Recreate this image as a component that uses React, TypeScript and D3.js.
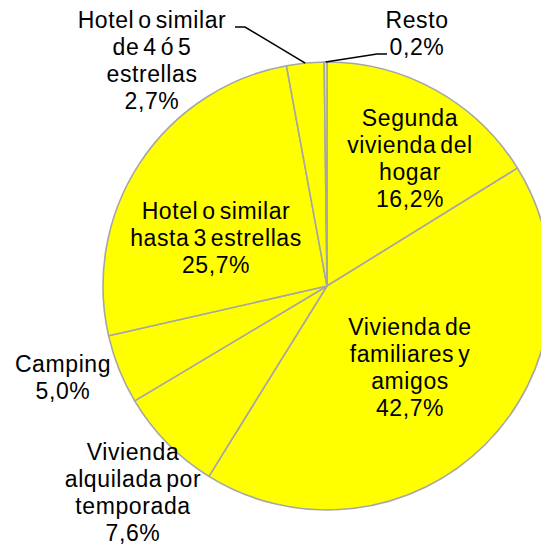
import * as d3 from 'd3';
import React from 'react';

// Tipo de alojamiento, en el orden de la tarta (sentido horario desde arriba)
const categories = [
  'Segunda\nvivienda del\nhogar',
  'Vivienda de\nfamiliares y\namigos',
  'Vivienda\nalquilada por\ntemporada',
  'Camping',
  'Hotel o similar\nhasta 3 estrellas',
  'Hotel o similar\nde 4 ó 5\nestrellas',
  'Resto',
];
const shares = [16.2, 42.7, 7.6, 5.0, 25.7, 2.7, 0.2];

// where Excel put each label, relative to the pie centre (x of block centre, first baseline)
const labelOffsets = [
  [83, -160],
  [83, 49],
  [-194, 174],
  [-264, 86],
  [-111, -67],
  [-175, -258],
  [90, -258],
];
// leader lines for the outside labels: [elbow, end] relative to centre
const leaders: Record<number, [number, number][]> = {
  5: [[-82, -259], [-92, -259]],
  6: [[50, -232], [60, -232]],
};

const W = 541;
const H = 548;
const cx = 327;
const cy = 286;
const R = 224;
const lineH = 27;

const fmt = (v: number) => d3.format('.1f')(v).replace('.', ',') + '%';

const App = () => {
  const pie = d3.pie<number>().sort(null).value((d) => d);
  const arcs = pie(shares);
  const arc = d3.arc<d3.PieArcDatum<number>>().innerRadius(0).outerRadius(R);

  return (
    <svg
      width={W}
      height={H}
      style={{ position: 'absolute', left: 0, top: 0, background: '#fff' }}
      fontFamily="'Liberation Sans', Arial, sans-serif"
    >
      <g transform={`translate(${cx},${cy})`}>
        {arcs.map((a, i) => (
          <path key={i} d={arc(a) || ''} fill="#ffff00" stroke="#a6a6a6" strokeWidth={1.6} strokeLinejoin="round" />
        ))}
        {Object.keys(leaders).map((k) => {
          const i = +k;
          const a = arcs[i];
          const mid = (a.startAngle + a.endAngle) / 2;
          const start: [number, number] = [R * Math.sin(mid), -R * Math.cos(mid)];
          const pts = [start, ...leaders[i]];
          return <path key={'l' + i} d={d3.line()(pts) || ''} fill="none" stroke="#000" strokeWidth={1.5} />;
        })}
        {categories.map((c, i) => {
          const lines = [...c.split('\n'), fmt(shares[i])];
          const [dx, dy] = labelOffsets[i];
          return (
            <text
              key={'t' + i}
              textAnchor="middle"
              fontSize={23}
              letterSpacing={0.6}
              wordSpacing={-3}
              fill="#000"
            >
              {lines.map((t, j) => (
                <tspan key={j} x={dx} y={dy + j * lineH}>
                  {t}
                </tspan>
              ))}
            </text>
          );
        })}
      </g>
    </svg>
  );
};

export default App;
